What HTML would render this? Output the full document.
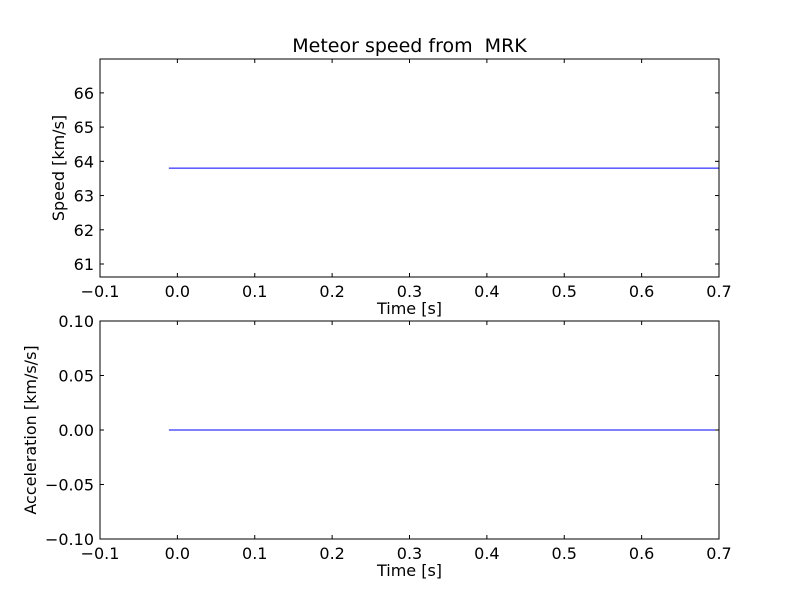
<!DOCTYPE html>
<html><head><meta charset="utf-8"><style>body{margin:0;background:#fff}svg{display:block}text{font-family:"DejaVu Sans","Liberation Sans",sans-serif;fill:#000}</style></head>
<body>
<svg id="c" width="800" height="600" viewBox="0 0 800 600" xmlns="http://www.w3.org/2000/svg"></svg>
<script>
const xTicks=[-0.1,0.0,0.1,0.2,0.3,0.4,0.5,0.6,0.7];
const xTickLabels=["\u22120.1","0.0","0.1","0.2","0.3","0.4","0.5","0.6","0.7"];
const speedTicks=[61,62,63,64,65,66];
const accTicks=[-0.10,-0.05,0.00,0.05,0.10];
const accTickLabels=["\u22120.10","\u22120.05","0.00","0.05","0.10"];
const timeValues=[-0.011,0.7];
const speedValues=[63.8,63.8];
const accValues=[0.0,0.0];
const NS="http://www.w3.org/2000/svg";
const svg=document.getElementById('c');
function mk(t,a,p){const e=document.createElementNS(NS,t);for(const k in a)e.setAttribute(k,a[k]);(p||svg).appendChild(e);return e;}
function panel(name,top,bot,ymin,ymax,ticks,labels,xs,ys,ylabel,title){
  const L=100,R=719;
  const sx=v=>L+(v-(-0.1))/(0.8)*(R-L);
  const sy=v=>bot-(v-ymin)/(ymax-ymin)*(bot-top);
  const g=mk('g',{});
  
  
  const pts=xs.map((x,i)=>sx(x)+','+sy(ys[i])).join(' ');
  const ln=mk('polyline',{points:pts,fill:'none',stroke:'#0000ff','stroke-width':1},g);
  
  
  xTicks.forEach((t,i)=>{const x=sx(t);
    mk('line',{x1:x,x2:x,y1:bot,y2:bot-4,stroke:'#000'},g);
    mk('line',{x1:x,x2:x,y1:top,y2:top+4,stroke:'#000'},g);
    const tx=mk('text',{x:x,y:bot+20,'font-size':16,'text-anchor':'middle'},g);tx.textContent=xTickLabels[i];
    
    });
  ticks.forEach((t,i)=>{const y=sy(t);
    mk('line',{x1:L,x2:L+4,y1:y,y2:y,stroke:'#000'},g);
    mk('line',{x1:R,x2:R-4,y1:y,y2:y,stroke:'#000'},g);
    const tx=mk('text',{x:L-6,y:y+6,'font-size':16,'text-anchor':'end'},g);tx.textContent=labels[i];
    
    });
  const fr=mk('rect',{x:L,y:top,width:R-L,height:bot-top,fill:'none',stroke:'#000'},g);
  
  
  const xl=mk('text',{x:(L+R)/2,y:bot+37,'font-size':16,'text-anchor':'middle'},g);xl.textContent='Time [s]';
  
  
  const yx=name==='speed-panel'?64:36;
  const yl=mk('text',{x:yx,y:(top+bot)/2,'font-size':16,'text-anchor':'middle',transform:`rotate(-90 ${yx} ${(top+bot)/2})`},g);yl.textContent=ylabel;
  
  
  if(title){const tt=mk('text',{x:(L+R)/2,y:top-7,'font-size':19,'text-anchor':'middle',style:'white-space:pre'},g);tt.textContent=title;
    
    }
}
panel('speed-panel',59,277,60.62,66.99,speedTicks,speedTicks.map(String),timeValues,speedValues,'Speed [km/s]','Meteor speed from  MRK');
panel('acceleration-panel',321,539,-0.10,0.10,accTicks,accTickLabels,timeValues,accValues,'Acceleration [km/s/s]',null);
</script>
</body></html>
